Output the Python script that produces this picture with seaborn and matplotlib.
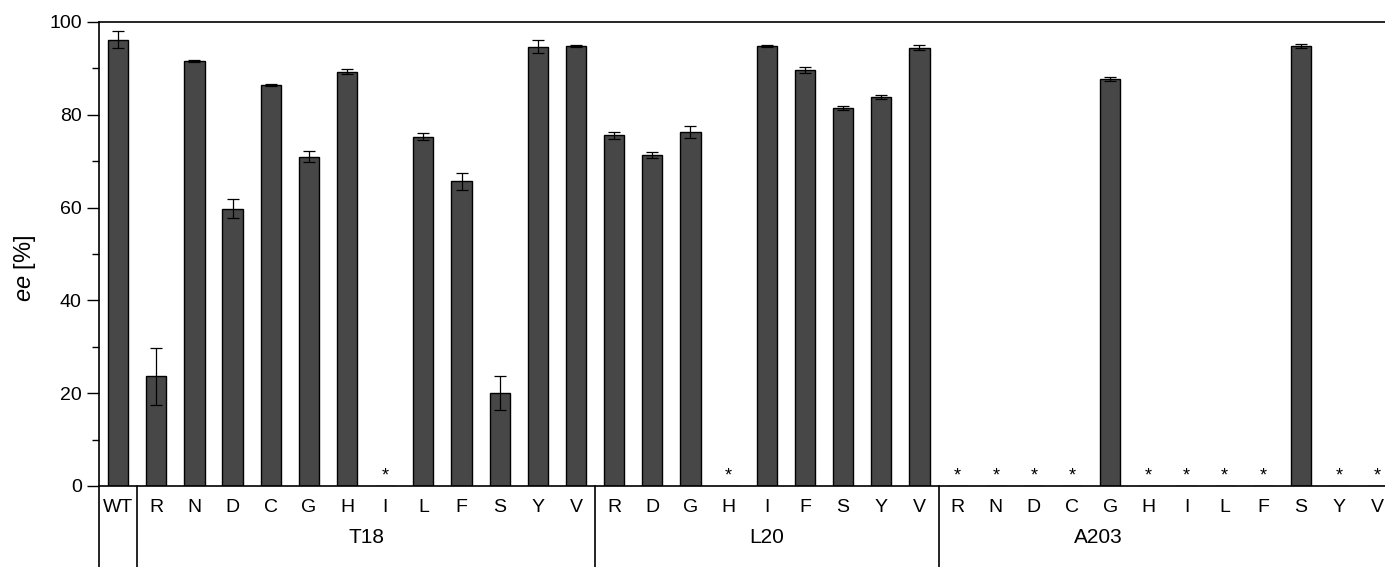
import matplotlib.pyplot as plt
import seaborn as sns
import pandas as pd

# mutants per group
groups = ["", "T18", "L20", "A203"]
groupResidues = [
    ["WT"],
    ["R", "N", "D", "C", "G", "H", "I", "L", "F", "S", "Y", "V"],
    ["R", "D", "G", "H", "I", "F", "S", "Y", "V"],
    ["R", "N", "D", "C", "G", "H", "I", "L", "F", "S", "Y", "V"],
]

# ee [%] and error (sd), 0 = no product (*)
eeWT = [96.2]
eeT18 = [23.6, 91.6, 59.8, 86.4, 71.0, 89.3, 0, 75.3, 65.7, 20.0, 94.7, 94.8]
eeL20 = [75.6, 71.3, 76.3, 0, 94.8, 89.7, 81.4, 83.8, 94.5]
eeA203 = [0, 0, 0, 0, 87.7, 0, 0, 0, 0, 94.9, 0, 0]

errWT = [1.9]
errT18 = [6.1, 0.3, 2.0, 0.2, 1.1, 0.5, 0, 0.8, 1.8, 3.6, 1.4, 0.2]
errL20 = [0.8, 0.7, 1.2, 0, 0.2, 0.7, 0.4, 0.5, 0.6]
errA203 = [0, 0, 0, 0, 0.4, 0, 0, 0, 0, 0.4, 0, 0]

groupLabelX = [None, 6.5, 17.0, 25.7]  # A203 label sits left of its group centre

ee = eeWT + eeT18 + eeL20 + eeA203
err = errWT + errT18 + errL20 + errA203
labels = [r for g in groupResidues for r in g]
pos = list(range(len(ee)))

df = pd.DataFrame({"pos": pos, "ee": ee, "err": err, "label": labels})

sns.set_style("ticks")
plt.rcParams["font.family"] = ["Liberation Sans", "DejaVu Sans"]
plt.rcParams["text.color"] = "black"
plt.rcParams["axes.labelcolor"] = "black"
plt.rcParams["xtick.color"] = "black"
plt.rcParams["ytick.color"] = "black"
plt.rcParams["mathtext.fontset"] = "custom"
plt.rcParams["mathtext.it"] = "Liberation Sans:italic"
plt.rcParams["mathtext.rm"] = "Liberation Sans"

fig = plt.figure(figsize=(13.85, 5.67), dpi=100)
ax = fig.add_axes([99 / 1385, 1 - 486 / 567, 1 - 99 / 1385, (486 - 22) / 567])

sns.barplot(
    data=df, x="pos", y="ee", color="#474747", saturation=1,
    edgecolor="black", linewidth=1, width=0.53, errorbar=None, ax=ax,
)
nonzero = df[df["ee"] > 0]
ax.errorbar(
    nonzero["pos"], nonzero["ee"], yerr=nonzero["err"], fmt="none",
    ecolor="black", elinewidth=0.9, capsize=4, capthick=0.9,
)
for _, row in df[df["ee"] == 0].iterrows():
    ax.text(row["pos"], 0.3, "*", ha="center", va="bottom", fontsize=13, color="black")

ax.set_xlim(-0.5, 33.2)
ax.set_ylim(0, 100)
ax.set_yticks([0, 20, 40, 60, 80, 100])
ax.set_yticks([10, 30, 50, 70, 90], minor=True)
ax.tick_params(axis="y", which="major", length=9, width=1, labelsize=14, direction="out")
ax.tick_params(axis="y", which="minor", length=5, width=1, direction="out")
ax.set_xticks(pos)
ax.set_xticklabels(labels, fontsize=14)
ax.tick_params(axis="x", length=0, pad=9)
ax.set_xlabel("")
ax.set_ylabel(r"$\it{ee}$ [%]", fontsize=17)
ax.yaxis.set_label_coords(-0.0475, 0.468)

for side in ["left", "top", "bottom"]:
    ax.spines[side].set_visible(True)
    ax.spines[side].set_linewidth(1.2)
    ax.spines[side].set_color("black")
ax.spines["right"].set_visible(False)

# group separators under the axis
trans = ax.get_xaxis_transform()
edges = [-0.5]
n = 0
for g in groupResidues:
    n += len(g)
    edges.append(n - 0.5)
for x in edges[:-1]:
    ax.plot([x, x], [0, -0.18], color="black", linewidth=1.2, transform=trans, clip_on=False)

for name, gx in zip(groups, groupLabelX):
    if gx is not None:
        ax.text(gx, -0.11, name, ha="center", va="center", fontsize=15, transform=trans)

fig.savefig("out.png", dpi=100)
